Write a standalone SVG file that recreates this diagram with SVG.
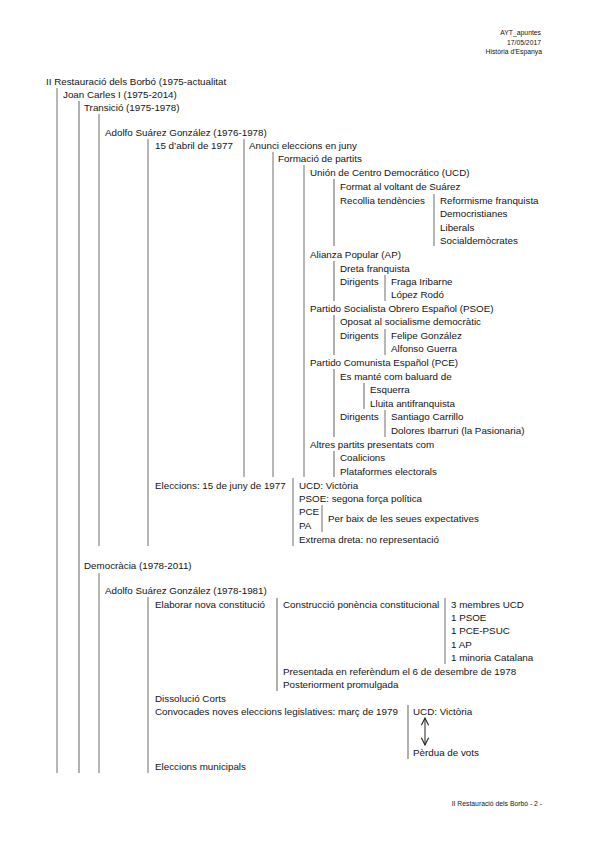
<svg xmlns="http://www.w3.org/2000/svg" width="599" height="848" viewBox="0 0 599 848">
<defs>
<style>
text { font-family: "Liberation Sans", Arial, sans-serif; font-size: 9.8px; fill: #141414; }
.sm { font-size: 6.8px; text-anchor: end; }
.d { stroke: #6e6e6e; stroke-width: 1; fill: none; }
.lt { stroke: #a8a8a8; stroke-width: 1.8; fill: none; }
.ar { stroke: #222; stroke-width: 1; fill: none; }
</style>
<marker id="chev" viewBox="0 0 10 10" refX="9" refY="5" markerWidth="9" markerHeight="9" markerUnits="userSpaceOnUse" orient="auto-start-reverse">
<path d="M1,1 L9,5 L1,9" fill="none" stroke="#222" stroke-width="1.2"/>
</marker>
</defs>
<rect width="599" height="848" fill="#fff"/>

<g id="header">
<text class="sm" x="541" y="35">AYT_apuntes</text>
<text class="sm" x="541" y="44.5">17/05/2017</text>
<text class="sm" x="542" y="54">Història d'Espanya</text>
</g>

<g id="connectors">
<line class="d" x1="57" y1="88" x2="57" y2="773"/>
<line class="lt" x1="79" y1="101" x2="79" y2="773"/>
<line class="d" x1="99" y1="114" x2="99" y2="546"/>
<line class="d" x1="99" y1="573" x2="99" y2="773"/>
<line class="d" x1="148" y1="139" x2="148" y2="546"/>
<line class="d" x1="148" y1="597" x2="148" y2="773"/>
<line class="d" x1="244" y1="139" x2="244" y2="477"/>
<line class="d" x1="273" y1="152" x2="273" y2="477"/>
<line class="d" x1="304" y1="165" x2="304" y2="477"/>
<line class="lt" x1="334" y1="179" x2="334" y2="246"/>
<line class="d" x1="434" y1="194" x2="434" y2="246"/>
<line class="lt" x1="334" y1="261" x2="334" y2="301"/>
<line class="d" x1="385" y1="275" x2="385" y2="301"/>
<line class="lt" x1="334" y1="315" x2="334" y2="355"/>
<line class="d" x1="385" y1="329" x2="385" y2="355"/>
<line class="lt" x1="334" y1="369" x2="334" y2="437"/>
<line class="lt" x1="364" y1="383" x2="364" y2="409"/>
<line class="d" x1="385" y1="410" x2="385" y2="437"/>
<line class="lt" x1="334" y1="451" x2="334" y2="477"/>
<line class="d" x1="293" y1="478" x2="293" y2="546"/>
<line class="d" x1="322" y1="505" x2="322" y2="532"/>
<line class="lt" x1="277" y1="598" x2="277" y2="691"/>
<line class="d" x1="445" y1="598" x2="445" y2="664"/>
<line class="lt" x1="408" y1="705" x2="408" y2="759"/>
<line class="ar" x1="425" y1="718" x2="425" y2="745" marker-start="url(#chev)" marker-end="url(#chev)"/>
</g>

<g id="n-restauracio"><text x="46" y="84.5">II Restauració dels Borbó (1975-actualitat</text></g>
<g id="n-joancarles"><text x="63" y="98">Joan Carles I (1975-2014)</text></g>
<g id="n-transicio"><text x="84" y="111">Transició (1975-1978)</text></g>
<g id="n-suarez1"><text x="105" y="135.5">Adolfo Suárez González (1976-1978)</text></g>
<g id="n-abril"><text x="155" y="148.5">15 d’abril de 1977</text></g>
<g id="n-anunci"><text x="249" y="148.5">Anunci eleccions en juny</text></g>
<g id="n-formacio"><text x="278" y="162">Formació de partits</text></g>
<g id="n-ucd"><text x="310" y="175.5">Unión de Centro Democrático (UCD)</text></g>
<g id="n-format"><text x="340" y="189.5">Format al voltant de Suárez</text></g>
<g id="n-recollia"><text x="340" y="203.5">Recollia tendències</text></g>
<g id="n-reformisme"><text x="440" y="203.5">Reformisme franquista</text></g>
<g id="n-democristianes"><text x="440" y="217">Democristianes</text></g>
<g id="n-liberals"><text x="440" y="230.5">Liberals</text></g>
<g id="n-socialdem"><text x="440" y="244">Socialdemòcrates</text></g>
<g id="n-ap"><text x="310" y="258">Alianza Popular (AP)</text></g>
<g id="n-dreta"><text x="340" y="271.5">Dreta franquista</text></g>
<g id="n-dir-ap"><text x="340" y="285">Dirigents</text></g>
<g id="n-fraga"><text x="391" y="285">Fraga Iribarne</text></g>
<g id="n-lopez"><text x="391" y="298">López Rodó</text></g>
<g id="n-psoe"><text x="310" y="311.5">Partido Socialista Obrero Español (PSOE)</text></g>
<g id="n-oposat"><text x="340" y="325">Oposat al socialisme democràtic</text></g>
<g id="n-dir-psoe"><text x="340" y="338.5">Dirigents</text></g>
<g id="n-felipe"><text x="391" y="338.5">Felipe González</text></g>
<g id="n-alfonso"><text x="391" y="352">Alfonso Guerra</text></g>
<g id="n-pce"><text x="310" y="365.5">Partido Comunista Español (PCE)</text></g>
<g id="n-esmante"><text x="340" y="379.5">Es manté com baluard de</text></g>
<g id="n-esquerra"><text x="370" y="393">Esquerra</text></g>
<g id="n-lluita"><text x="370" y="406.5">Lluita antifranquista</text></g>
<g id="n-dir-pce"><text x="340" y="420">Dirigents</text></g>
<g id="n-carrillo"><text x="391" y="420">Santiago Carrillo</text></g>
<g id="n-ibarruri"><text x="391" y="433.5">Dolores Ibarruri (la Pasionaria)</text></g>
<g id="n-altres"><text x="310" y="447.5">Altres partits presentats com</text></g>
<g id="n-coalicions"><text x="340" y="461">Coalicions</text></g>
<g id="n-plataformes"><text x="340" y="474.5">Plataformes electorals</text></g>
<g id="n-eleccions77"><text x="155" y="488.5">Eleccions: 15 de juny de 1977</text></g>
<g id="n-ucd-vict"><text x="299" y="488.5">UCD: Victòria</text></g>
<g id="n-psoe-seg"><text x="299" y="501.5">PSOE: segona força política</text></g>
<g id="n-pce2"><text x="299" y="515">PCE</text></g>
<g id="n-pa"><text x="299" y="528.5">PA</text></g>
<g id="n-perbaix"><text x="328" y="522">Per baix de les seues expectatives</text></g>
<g id="n-extrema"><text x="299" y="542.5">Extrema dreta: no representació</text></g>
<g id="n-democracia"><text x="84" y="569">Democràcia (1978-2011)</text></g>
<g id="n-suarez2"><text x="105" y="593.5">Adolfo Suárez González (1978-1981)</text></g>
<g id="n-elaborar"><text x="155" y="607.5">Elaborar nova constitució</text></g>
<g id="n-construccio"><text x="283" y="607.5">Construcció ponència constitucional</text></g>
<g id="n-m1"><text x="451" y="607.5">3 membres UCD</text></g>
<g id="n-m2"><text x="451" y="620.5">1 PSOE</text></g>
<g id="n-m3"><text x="451" y="634">1 PCE-PSUC</text></g>
<g id="n-m4"><text x="451" y="647.5">1 AP</text></g>
<g id="n-m5"><text x="451" y="661">1 minoria Catalana</text></g>
<g id="n-presentada"><text x="283" y="674.5">Presentada en referèndum el 6 de desembre de 1978</text></g>
<g id="n-promulgada"><text x="283" y="688">Posteriorment promulgada</text></g>
<g id="n-dissolucio"><text x="155" y="701.5">Dissolució Corts</text></g>
<g id="n-convocades"><text x="155" y="715">Convocades noves eleccions legislatives: març de 1979</text></g>
<g id="n-ucd-vict2"><text x="413" y="715">UCD: Victòria</text></g>
<g id="n-perdua"><text x="413" y="756">Pèrdua de vots</text></g>
<g id="n-municipals"><text x="155" y="770">Eleccions municipals</text></g>

<g id="footer">
<text class="sm" x="542" y="806">II Restauració dels Borbó - 2 -</text>
</g>
</svg>
